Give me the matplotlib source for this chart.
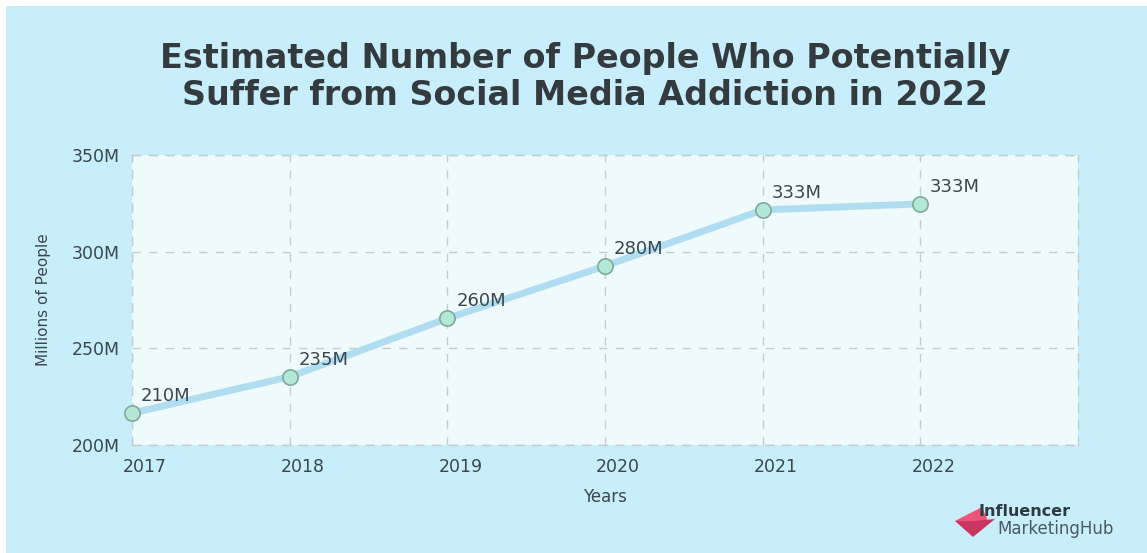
import matplotlib
matplotlib.use("Agg")
import matplotlib.pyplot as plt
import matplotlib.transforms as mtransforms
from matplotlib.patches import Polygon, Rectangle

# data
years = [2017, 2018, 2019, 2020, 2021, 2022]
people = [216.5, 235.3, 265.5, 292.6, 321.6, 324.7]      # plotted position (millions)
point_labels = ["210M", "235M", "260M", "280M", "333M", "333M"]
y_ticks = [200, 250, 300, 350]
y_tick_labels = ["200M", "250M", "300M", "350M"]

BG = "#c9eefb"
FACE = "#effafd"
GRID = "#c3ccd0"
TXT = "#3a474d"

W, H = 1147, 553
fig = plt.figure(figsize=(W / 100, H / 100), dpi=100)
fig.patch.set_facecolor("white")
# light-blue card, white strip top/left
fig.add_artist(Rectangle((6 / W, 0), 1, 1 - 6 / H, transform=fig.transFigure,
                         facecolor=BG, edgecolor="none", zorder=0))

ax = fig.add_axes([132 / W, 1 - 445 / H, (1078 - 132) / W, (445 - 155) / H])
ax.set_facecolor(FACE)
ax.set_xlim(2017, 2023)
ax.set_ylim(200, 350)
ax.set_xticks(years)
ax.set_yticks(y_ticks)
ax.set_yticklabels(y_tick_labels)
ax.grid(True, color=GRID, linestyle=(0, (6, 6)), linewidth=1)
for s in ax.spines.values():
    s.set_color(GRID); s.set_linestyle((0, (6, 6))); s.set_linewidth(1)
ax.tick_params(length=0, colors=TXT, labelsize=12.5)
ax.tick_params(axis="y", pad=9)
ax.tick_params(axis="x", pad=9)
off = mtransforms.ScaledTranslation(13 / 100, 0, fig.dpi_scale_trans)
for lab in ax.get_xticklabels():
    lab.set_transform(lab.get_transform() + off)

ax.plot(years, people, color="#b0def0", linewidth=5, solid_capstyle="round", zorder=3,
        marker="o", markersize=11, markerfacecolor="#b3e8d6", markeredgecolor="#7fa99c",
        markeredgewidth=1.2, clip_on=False)
for x, y, t in zip(years, people, point_labels):
    ax.annotate(t, (x, y), xytext=(9, 8), textcoords="offset pixels",
                ha="left", va="bottom", fontsize=13, color=TXT, zorder=4)

ax.set_xlabel("Years", fontsize=12, color=TXT, labelpad=9)
ax.set_ylabel("Millions of People", fontsize=11, color=TXT, labelpad=15)

fig.text(585 / W, 1 - 77 / H,
         "Estimated Number of People Who Potentially\nSuffer from Social Media Addiction in 2022",
         ha="center", va="center", fontsize=24, fontweight="bold",
         color="#333b3f", linespacing=1.12)

# logo
tf = fig.transFigure
def P(pts, c):
    fig.add_artist(Polygon([(x / W, 1 - y / H) for x, y in pts], closed=True,
                           transform=tf, facecolor=c, edgecolor="none"))
P([(955, 521), (982, 507), (988, 521), (974, 521)], "#ee5478")
P([(955, 521), (974, 521), (995, 519), (973, 537)], "#c93660")
fig.text(979 / W, 1 - 511 / H, "Influencer", fontsize=11.5, fontweight="bold",
         color="#2d3a40", va="center", ha="left")
fig.text(997 / W, 1 - 529 / H, "MarketingHub", fontsize=12,
         color="#4a5a62", va="center", ha="left")

fig.savefig("out.png", dpi=100, facecolor=fig.get_facecolor())
